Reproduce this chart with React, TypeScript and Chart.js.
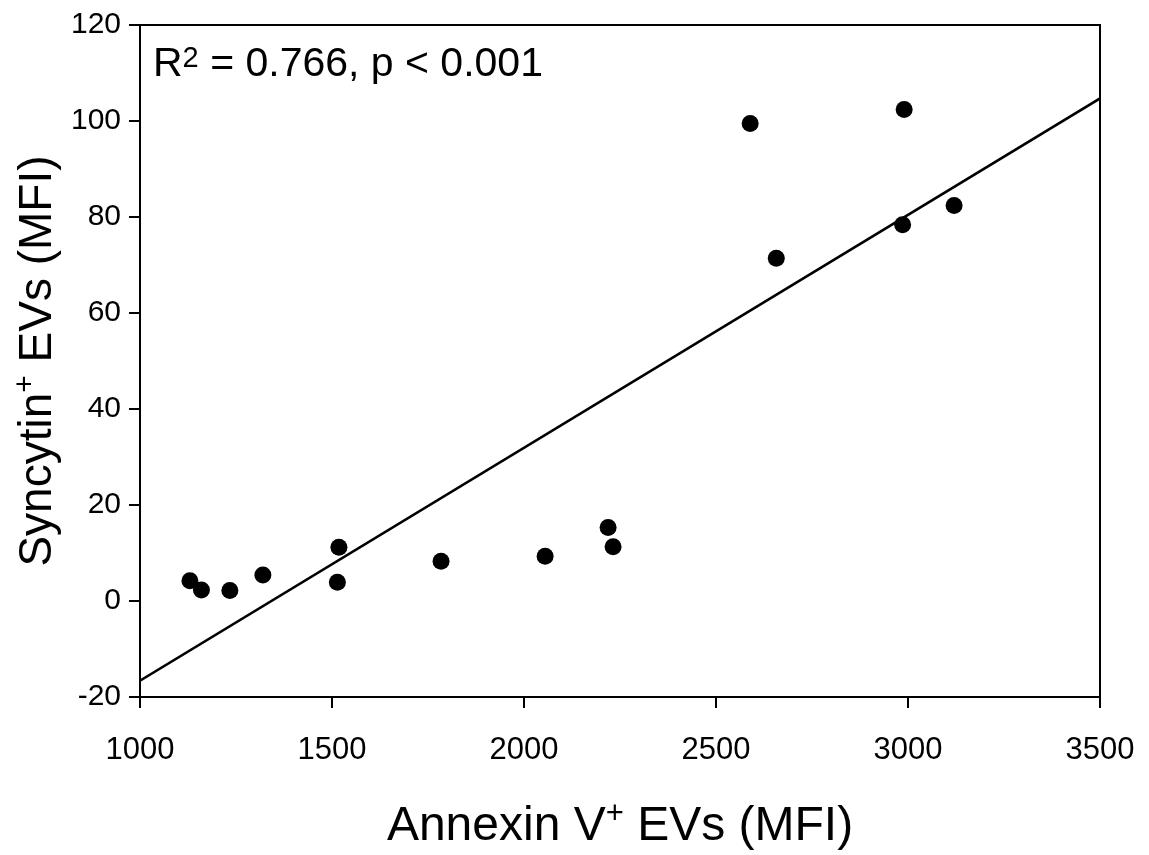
import React, { useEffect, useRef } from "react";
import { Chart, registerables } from "chart.js";

Chart.register(...registerables);

// Data
const annexinMFI = [1130, 1160, 1234, 1320, 1518, 1514, 1784, 2055, 2219, 2232, 2589, 2657, 2986, 2990, 3120];
const syncytinMFI = [4.2, 2.3, 2.2, 5.4, 11.2, 3.9, 8.3, 9.3, 15.3, 11.3, 99.5, 71.4, 78.4, 102.4, 82.4];
const fitLineX = [1000, 3500];
const fitLineY = [-16.6, 104.7];
const xTickValues = [1000, 1500, 2000, 2500, 3000, 3500];
const yTickValues = [-20, 0, 20, 40, 60, 80, 100, 120];

const FONT = '"Liberation Sans", Arial, Helvetica, sans-serif';

type Part = { text: string; size: number; dy: number };

function partsWidth(ctx: CanvasRenderingContext2D, parts: Part[]) {
  let w = 0;
  for (const p of parts) {
    ctx.font = `${p.size}px ${FONT}`;
    w += ctx.measureText(p.text).width;
  }
  return w;
}

function drawParts(ctx: CanvasRenderingContext2D, parts: Part[], x: number, y: number) {
  let cx = x;
  for (const p of parts) {
    ctx.font = `${p.size}px ${FONT}`;
    ctx.fillText(p.text, cx, y + p.dy);
    cx += ctx.measureText(p.text).width;
  }
}

const framePlugin = {
  id: "frameAndText",
  afterDraw(chart: any) {
    const { ctx, chartArea } = chart;
    ctx.save();
    ctx.strokeStyle = "#000";
    ctx.lineWidth = 2;
    ctx.strokeRect(chartArea.left, chartArea.top, chartArea.right - chartArea.left, chartArea.bottom - chartArea.top);

    ctx.fillStyle = "#000";
    ctx.textAlign = "left";
    ctx.textBaseline = "alphabetic";

    // R² annotation
    const rParts: Part[] = [
      { text: "R", size: 41, dy: 0 },
      { text: "2", size: 29, dy: -9 },
      { text: " = 0.766, p < 0.001", size: 41, dy: 0 },
    ];
    drawParts(ctx, rParts, chartArea.left + 13, 76);

    // X axis title
    const xParts: Part[] = [
      { text: "Annexin V", size: 48, dy: 0 },
      { text: "+", size: 31, dy: -17 },
      { text: " EVs (MFI)", size: 48, dy: 0 },
    ];
    const xw = partsWidth(ctx, xParts);
    const cx = (chartArea.left + chartArea.right) / 2;
    drawParts(ctx, xParts, cx - xw / 2, 840);

    // Y axis title (rotated)
    const yParts: Part[] = [
      { text: "Syncytin", size: 46, dy: 0 },
      { text: "+", size: 30, dy: -17 },
      { text: " EVs (MFI)", size: 46, dy: 0 },
    ];
    const yw = partsWidth(ctx, yParts);
    const cy = (chartArea.top + chartArea.bottom) / 2;
    ctx.translate(51, cy);
    ctx.rotate(-Math.PI / 2);
    drawParts(ctx, yParts, -yw / 2, 0);
    ctx.restore();
  },
};

export default function App() {
  const ref = useRef<HTMLCanvasElement>(null);

  useEffect(() => {
    if (!ref.current) return;
    const points = annexinMFI.map((x, i) => ({ x, y: syncytinMFI[i] }));
    const fit = fitLineX.map((x, i) => ({ x, y: fitLineY[i] }));

    const tickGrid = {
      display: true,
      drawOnChartArea: false,
      drawTicks: true,
      tickLength: 11,
      color: "#000",
      lineWidth: 2,
    };

    const chart = new Chart(ref.current, {
      type: "scatter",
      data: {
        datasets: [
          {
            type: "scatter",
            label: "Samples",
            data: points,
            pointRadius: 8.5,
            pointHoverRadius: 8.5,
            backgroundColor: "#000",
            borderWidth: 0,
            order: 0,
          },
          {
            type: "line",
            label: "Regression",
            data: fit,
            borderColor: "#000",
            borderWidth: 2.5,
            pointRadius: 0,
            fill: false,
            order: 1,
          } as any,
        ],
      },
      options: {
        responsive: false,
        devicePixelRatio: 1,
        animation: false,
        layout: { padding: { top: 25, right: 49, bottom: 0, left: 0 } },
        plugins: {
          legend: { display: false },
          tooltip: { enabled: false },
          title: { display: false },
        },
        scales: {
          x: {
            type: "linear",
            min: 1000,
            max: 3500,
            afterBuildTicks: (s: any) => {
              s.ticks = xTickValues.map((v) => ({ value: v }));
            },
            afterFit: (s: any) => {
              s.height = 158;
              s.paddingLeft = 0;
              s.paddingRight = 0;
            },
            ticks: {
              color: "#000",
              font: { family: FONT, size: 31 },
              padding: 24,
              maxRotation: 0,
              callback: (v: any) => String(v),
            },
            grid: tickGrid as any,
            border: { display: true, color: "#000", width: 2 },
          },
          y: {
            type: "linear",
            min: -20,
            max: 120,
            afterBuildTicks: (s: any) => {
              s.ticks = yTickValues.map((v) => ({ value: v }));
            },
            afterFit: (s: any) => {
              s.width = 140;
              s.paddingTop = 0;
              s.paddingBottom = 0;
            },
            ticks: {
              color: "#000",
              font: { family: FONT, size: 30 },
              padding: 8,
              callback: (v: any) => String(v),
            },
            grid: tickGrid as any,
            border: { display: true, color: "#000", width: 2 },
          },
        },
      },
      plugins: [framePlugin],
    });
    return () => chart.destroy();
  }, []);

  return (
    <div style={{ position: "fixed", left: 0, top: 0, width: 1149, height: 855, background: "#fff" }}>
      <canvas ref={ref} width={1149} height={855} style={{ display: "block", width: 1149, height: 855 }} />
    </div>
  );
}
